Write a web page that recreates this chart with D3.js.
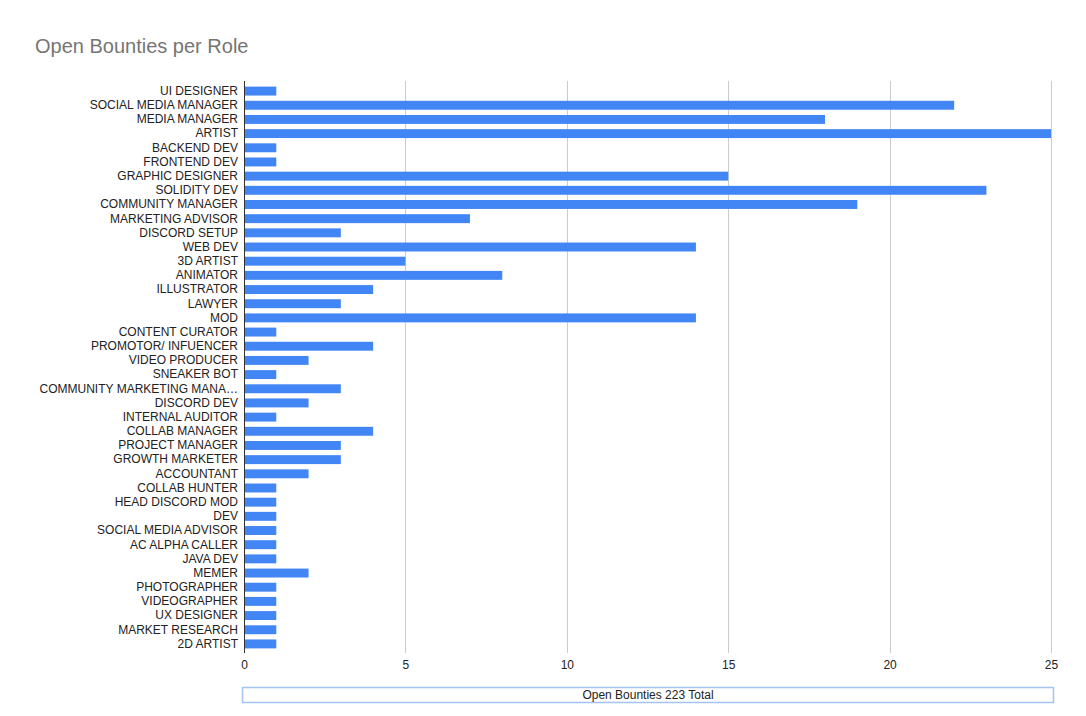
<!DOCTYPE html>
<html>
<head>
<meta charset="utf-8">
<script src="https://cdn.jsdelivr.net/npm/d3@7"></script>
<style>
  html, body { margin: 0; padding: 0; background: #fff; }
  svg { display: block; font-family: "Liberation Sans", Arial, sans-serif; }
</style>
</head>
<body>
<svg id="chart" width="1086" height="716"></svg>
<script>
const title = "Open Bounties per Role";
const legendLabel = "Open Bounties 223 Total";
const roles = [
  "UI DESIGNER", "SOCIAL MEDIA MANAGER", "MEDIA MANAGER", "ARTIST", "BACKEND DEV",
  "FRONTEND DEV", "GRAPHIC DESIGNER", "SOLIDITY DEV", "COMMUNITY MANAGER", "MARKETING ADVISOR",
  "DISCORD SETUP", "WEB DEV", "3D ARTIST", "ANIMATOR", "ILLUSTRATOR",
  "LAWYER", "MOD", "CONTENT CURATOR", "PROMOTOR/ INFUENCER", "VIDEO PRODUCER",
  "SNEAKER BOT", "COMMUNITY MARKETING MANA…", "DISCORD DEV", "INTERNAL AUDITOR", "COLLAB MANAGER",
  "PROJECT MANAGER", "GROWTH MARKETER", "ACCOUNTANT", "COLLAB HUNTER", "HEAD DISCORD MOD",
  "DEV", "SOCIAL MEDIA ADVISOR", "AC ALPHA CALLER", "JAVA DEV", "MEMER",
  "PHOTOGRAPHER", "VIDEOGRAPHER", "UX DESIGNER", "MARKET RESEARCH", "2D ARTIST"
];
const bounties = [
  1, 22, 18, 25, 1,
  1, 15, 23, 19, 7,
  3, 14, 5, 8, 4,
  3, 14, 1, 4, 2,
  1, 3, 2, 1, 4,
  3, 3, 2, 1, 1,
  1, 1, 1, 1, 2,
  1, 1, 1, 1, 1
];
const xTicks = [0, 5, 10, 15, 20, 25];

(function () {
const svg = d3.select("#chart");
const plotLeft = 244, plotRight = 1051, plotTop = 81, plotBottom = 653;

const x = d3.scaleLinear().domain([0, 25]).range([plotLeft, plotRight]);
const y = d3.scaleBand().domain(roles).range([84, 651]).paddingInner(0.37).paddingOuter(0.185);

// title
svg.append("text")
  .attr("x", 35).attr("y", 53)
  .attr("font-size", 20)
  .attr("fill", "#757575")
  .text(title);

// gridlines
svg.append("g").selectAll("line")
  .data(xTicks.filter(d => d > 0))
  .join("line")
  .attr("x1", d => Math.round(x(d)) + 0.5).attr("x2", d => Math.round(x(d)) + 0.5)
  .attr("y1", plotTop).attr("y2", plotBottom)
  .attr("stroke", "#cccccc").attr("stroke-width", 1);

// bars
svg.append("g").selectAll("rect")
  .data(roles.map((r, i) => ({ role: r, value: bounties[i] })))
  .join("rect")
  .attr("x", x(0))
  .attr("y", d => y(d.role))
  .attr("width", d => x(d.value) - x(0))
  .attr("height", y.bandwidth())
  .attr("fill", "#4285f4");

// baseline axis
svg.append("line")
  .attr("x1", x(0) + 0.5).attr("x2", x(0) + 0.5)
  .attr("y1", plotTop).attr("y2", plotBottom)
  .attr("stroke", "#333333").attr("stroke-width", 1);

// y labels
const yAxis = d3.axisLeft(y).tickSize(0).tickPadding(6);
const gy = svg.append("g").attr("transform", `translate(${x(0)},0)`).call(yAxis);
gy.select(".domain").remove();
gy.selectAll("text")
  .attr("font-size", 12)
  .attr("fill", "#222222")
  .attr("font-family", "Liberation Sans, Arial, sans-serif");

// x labels
const xAxis = d3.axisBottom(x).tickValues(xTicks).tickSize(0).tickPadding(0).tickFormat(d3.format("d"));
const gx = svg.append("g").attr("transform", `translate(0,${plotBottom + 7})`).call(xAxis);
gx.select(".domain").remove();
gx.selectAll("text")
  .attr("font-size", 12)
  .attr("fill", "#222222")
  .attr("font-family", "Liberation Sans, Arial, sans-serif");

// legend box
svg.append("rect")
  .attr("x", 242.5).attr("y", 687.5)
  .attr("width", 811).attr("height", 15)
  .attr("fill", "#ffffff")
  .attr("stroke", "#a4c2f4").attr("stroke-width", 1.5);
svg.append("text")
  .attr("x", (242.5 + 1053.5) / 2).attr("y", 699)
  .attr("text-anchor", "middle")
  .attr("font-size", 12)
  .attr("fill", "#222222")
  .text(legendLabel);
})();
</script>
</body>
</html>
